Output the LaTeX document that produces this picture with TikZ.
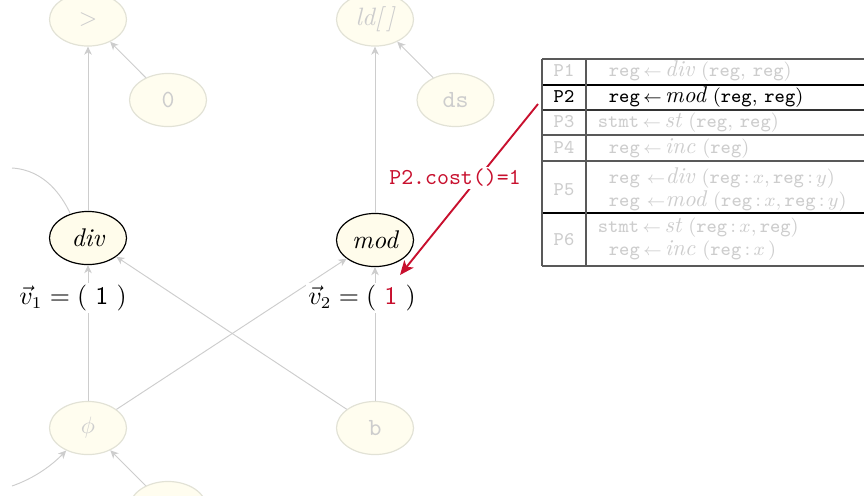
\documentclass[tikz,border=0pt]{standalone}
\usetikzlibrary{shapes.geometric,arrows.meta}
\definecolor{fadegray}{RGB}{205,205,205}
\definecolor{fadeline}{RGB}{226,226,214}
\definecolor{nodecream}{RGB}{255,252,235}
\definecolor{costred}{RGB}{200,16,46}
\newcommand{\opname}[1]{{\fontsize{9.6}{11}\selectfont\itshape #1}}
\newcommand{\larr}{{\fontsize{7}{8}\selectfont$\leftarrow$}}
\tikzset{
	tnode/.style={ellipse, draw=fadeline, fill=nodecream!80, text=fadegray, line width=0.5pt, minimum width=32.5pt, minimum height=22.4pt, inner sep=0pt, font=\fontsize{10.4}{12}\selectfont},
	hnode/.style={tnode, draw=black, fill=nodecream, text=black, font=\fontsize{10.8}{12}\selectfont\itshape},
	gedge/.style={draw=fadegray, line width=0.4pt, -{Stealth[length=3.4pt,width=3.2pt,inset=1pt]}},
	gline/.style={draw=fadegray, line width=0.4pt},
	vlabel/.style={fill=white, inner sep=1pt, font=\fontsize{10.6}{12}\selectfont},
	costarrow/.style={draw=costred, line width=0.8pt, -{Stealth[length=6pt,width=5pt,inset=1.5pt]}},
	tabline/.style={draw=black!65, line width=0.5pt},
	rowlabel/.style={inner sep=0pt, anchor=base, text=fadegray, font=\fontsize{8.2}{10}\selectfont\ttfamily},
	rowtext/.style={inner sep=0pt, anchor=base west, text=fadegray, font=\fontsize{8.2}{10}\selectfont},
}
\tikzset{every picture/.style={line width=0.75pt}}

\begin{document}
\begin{tikzpicture}[x=0.422pt,y=0.422pt,yscale=-1,xscale=1]
	\useasboundingbox (0,0) rectangle (864,495);

	%Shape: Ellipse (tree nodes)
	\node[tnode] (gt) at (88,19.5) {$>$};
	\node[tnode] (zero) at (168,100) {\ttfamily 0};
	\node[tnode, font=\fontsize{10.6}{12}\selectfont\itshape] (ld) at (375,19.5) {ld[\,]};
	\node[tnode] (ds) at (455.5,100) {\ttfamily ds};
	\node[hnode] (div) at (88,238) {div};
	\node[hnode] (mod) at (375,240) {mod};
	\node[tnode] (phi) at (88,428) {$\phi$};
	\node[tnode] (b) at (375,428) {\ttfamily b};
	\node[tnode] (bot) at (168,508) {};
	\coordinate (lin) at (12,486);
	\coordinate (lout) at (12,168);

	%Straight Lines
	\draw[gedge] (div) -- (gt);
	\draw[gedge] (zero) -- (gt);
	\draw[gedge] (mod) -- (ld);
	\draw[gedge] (ds) -- (ld);
	\draw[gedge] (phi) -- (div);
	\draw[gedge] (b) -- (div);
	\draw[gedge] (phi) -- (mod);
	\draw[gedge] (b) -- (mod);
	\draw[gedge] (bot) -- (phi);
	%Curve Lines
	\draw[gline] (div.126) .. controls (62,196) and (45,170) .. (lout);
	\draw[gedge] (lin) .. controls (35,478) and (52,465) .. (phi.226);

	% Text Node
	\node[vlabel] (v1) at (73,298) {$\vec{v}_1 = (\ \textsf{1}\ )$};
	% Text Node
	\node[vlabel] (v2) at (362,298) {$\vec{v}_2 = (\ \textcolor{costred}{\textsf{1}}\ )$};

	%Shape: Table
	\draw[tabline] (542,59) -- (870,59);
	\draw[draw=black, line width=0.5pt] (542,85) -- (870,85);
	\draw[draw=black!80, line width=0.5pt] (542,110) -- (870,110);
	\draw[tabline] (542,135) -- (870,135);
	\draw[tabline] (542,161) -- (870,161);
	\draw[draw=black, line width=0.7pt] (542,213) -- (870,213);
	\draw[tabline] (542,266) -- (870,266);
	\draw[tabline] (542,59) -- (542,266);
	\draw[tabline] (586,59) -- (586,266);

	% Text Node
	\node[rowlabel] (p1) at (564,76) {P1};
	\node[rowtext] (p1r) at (608,76) {\texttt{reg}\,\larr\,\opname{div} (\texttt{reg}, \texttt{reg})};
	\node[rowlabel, text=black] (p2) at (564,102) {P2};
	\node[rowtext, text=black] (p2r) at (608,102) {\texttt{reg}\,\larr\,\opname{mod} (\texttt{reg}, \texttt{reg})};
	\node[rowlabel] (p3) at (564,127.5) {P3};
	\node[rowtext] (p3r) at (597,127.5) {\texttt{stmt}\,\larr\,\opname{st} (\texttt{reg}, \texttt{reg})};
	\node[rowlabel] (p4) at (564,153) {P4};
	\node[rowtext] (p4r) at (608,153) {\texttt{reg}\,\larr\,\opname{inc} (\texttt{reg})};
	\node[rowlabel] (p5) at (564,195) {P5};
	\node[rowtext] (p5a) at (608,183) {\texttt{reg}\ \larr\opname{div} (\texttt{reg}\,:\,$x$,\,\texttt{reg}\,:\,$y$)};
	\node[rowtext] (p5b) at (608,206) {\texttt{reg}\ \larr\opname{mod} (\texttt{reg}\,:\,$x$,\,\texttt{reg}\,:\,$y$)};
	\node[rowlabel] (p6) at (564,245) {P6};
	\node[rowtext] (p6a) at (597,232) {\texttt{stmt}\,\larr\,\opname{st} (\texttt{reg}\,:\,$x$,\,\texttt{reg})};
	\node[rowtext] (p6b) at (608,255) {\texttt{reg}\,\larr\,\opname{inc} (\texttt{reg}\,:\,$x$\,)};

	%Straight Lines (cost)
	\coordinate (p2end) at (538,104);
	\coordinate (v2one) at (400,275);
	\draw[costarrow] (p2end) -- (v2one);
	% Text Node
	\node[fill=white, inner sep=1pt, text=costred, font=\fontsize{9.6}{11}\selectfont\ttfamily] (cost) at (455,178) {P2.cost()=1};

\end{tikzpicture}
\end{document}
